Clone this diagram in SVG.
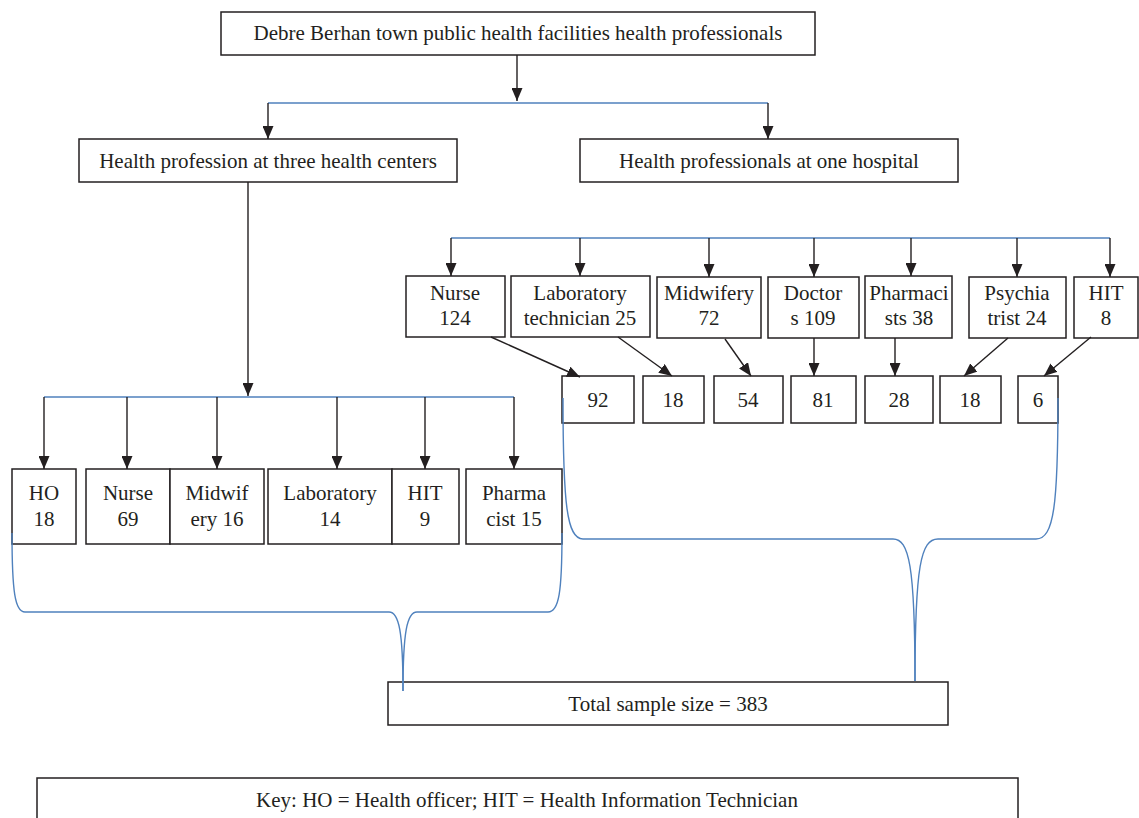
<svg xmlns="http://www.w3.org/2000/svg" width="1139" height="818" viewBox="0 0 1139 818">
<defs>
<marker id="ah" markerUnits="userSpaceOnUse" markerWidth="13" markerHeight="11" refX="13" refY="5.5" orient="auto">
<path d="M0,0 L13,5.5 L0,11 z" fill="#231f20"/>
</marker>
<style>
.n rect{fill:#fff;stroke:#231f20;stroke-width:1.5}
text{font-family:"Liberation Serif","Times New Roman",serif;font-size:21px;fill:#231f20;text-anchor:middle}
.k{stroke:#231f20;stroke-width:1.4;fill:none}
.a{marker-end:url(#ah)}
.b{stroke:#4f81bd;stroke-width:1.4;fill:none}
</style>
</defs>
<rect x="0" y="0" width="1139" height="818" fill="#fff"/>

<g class="n">
<g id="n_top"><rect x="221" y="12" width="594" height="43"/><text x="518" y="40">Debre Berhan town public health facilities health professionals</text></g>
<g id="n_hc"><rect x="79" y="139" width="378" height="43"/><text x="268" y="168">Health profession at three health centers</text></g>
<g id="n_hosp"><rect x="580" y="139" width="378" height="43"/><text x="769" y="168">Health professionals at one hospital</text></g>

<g id="n_ho"><rect x="12" y="469" width="64" height="75"/><text x="44" y="500">HO</text><text x="44" y="526">18</text></g>
<g id="n_nurse69"><rect x="86" y="469" width="84" height="75"/><text x="128" y="500">Nurse</text><text x="128" y="526">69</text></g>
<g id="n_midwif16"><rect x="170" y="469" width="94" height="75"/><text x="217" y="500">Midwif</text><text x="217" y="526">ery 16</text></g>
<g id="n_lab14"><rect x="268" y="469" width="124" height="75"/><text x="330" y="500">Laboratory</text><text x="330" y="526">14</text></g>
<g id="n_hit9"><rect x="392" y="469" width="67" height="75"/><text x="425" y="500">HIT</text><text x="425" y="526">9</text></g>
<g id="n_pharma15"><rect x="466" y="469" width="96" height="75"/><text x="514" y="500">Pharma</text><text x="514" y="526">cist 15</text></g>

<g id="n_nurse124"><rect x="406" y="276" width="99" height="61"/><text x="455" y="300">Nurse</text><text x="455" y="325">124</text></g>
<g id="n_lab25"><rect x="511" y="276" width="139" height="61"/><text x="580" y="300">Laboratory</text><text x="580" y="325">technician 25</text></g>
<g id="n_mid72"><rect x="657" y="277" width="104" height="61"/><text x="709" y="300">Midwifery</text><text x="709" y="325">72</text></g>
<g id="n_doc109"><rect x="768" y="277" width="91" height="61"/><text x="813" y="300">Doctor</text><text x="813" y="325">s 109</text></g>
<g id="n_pharm38"><rect x="865" y="276" width="87" height="62"/><text x="909" y="300">Pharmaci</text><text x="909" y="325">sts 38</text></g>
<g id="n_psy24"><rect x="969" y="277" width="97" height="61"/><text x="1017" y="300">Psychia</text><text x="1017" y="325">trist 24</text></g>
<g id="n_hit8"><rect x="1074" y="277" width="64" height="61"/><text x="1106" y="300">HIT</text><text x="1106" y="325">8</text></g>

<g id="n_92"><rect x="562" y="376" width="72" height="47"/><text x="598" y="407">92</text></g>
<g id="n_18a"><rect x="643" y="376" width="61" height="47"/><text x="673" y="407">18</text></g>
<g id="n_54"><rect x="714" y="376" width="69" height="47"/><text x="748" y="407">54</text></g>
<g id="n_81"><rect x="791" y="376" width="65" height="47"/><text x="823" y="407">81</text></g>
<g id="n_28"><rect x="865" y="376" width="68" height="47"/><text x="899" y="407">28</text></g>
<g id="n_18b"><rect x="940" y="376" width="61" height="47"/><text x="970" y="407">18</text></g>
<g id="n_6"><rect x="1018" y="376" width="40" height="47"/><text x="1038" y="407">6</text></g>

<g id="n_total"><rect x="388" y="682" width="560" height="43"/><text x="668" y="711">Total sample size = 383</text></g>
<g id="n_key"><rect x="37" y="778" width="981" height="60"/><text x="527" y="807" font-size="21.5">Key: HO = Health officer; HIT = Health Information Technician</text></g>
</g>

<g id="connectors">
<line class="k a" x1="517" y1="55" x2="517" y2="101"/>
<polyline class="b" points="268,103 768,103"/>
<line class="k a" x1="268" y1="103" x2="268" y2="139"/>
<line class="k a" x1="768" y1="103" x2="768" y2="139"/>
<line class="k a" x1="248" y1="182" x2="248" y2="396"/>
<polyline class="b" points="44,397 514,397"/>
<line class="k a" x1="44" y1="397" x2="44" y2="469"/>
<line class="k a" x1="127" y1="397" x2="127" y2="469"/>
<line class="k a" x1="217" y1="397" x2="217" y2="469"/>
<line class="k a" x1="337" y1="397" x2="337" y2="469"/>
<line class="k a" x1="425" y1="397" x2="425" y2="469"/>
<line class="k a" x1="514" y1="397" x2="514" y2="469"/>
<polyline class="b" points="451,238 1110,238"/>
<line class="k a" x1="451" y1="238" x2="451" y2="276"/>
<line class="k a" x1="580" y1="238" x2="580" y2="276"/>
<line class="k a" x1="709" y1="238" x2="709" y2="277"/>
<line class="k a" x1="814" y1="238" x2="814" y2="277"/>
<line class="k a" x1="911" y1="238" x2="911" y2="276"/>
<line class="k a" x1="1017" y1="238" x2="1017" y2="277"/>
<line class="k a" x1="1110" y1="238" x2="1110" y2="277"/>
<line class="k a" x1="491" y1="337" x2="580" y2="377"/>
<line class="k a" x1="618" y1="337" x2="672" y2="376"/>
<line class="k a" x1="725" y1="339" x2="751" y2="376"/>
<line class="k a" x1="814" y1="338" x2="814" y2="376"/>
<line class="k a" x1="895" y1="338" x2="895" y2="376"/>
<line class="k a" x1="1008" y1="338" x2="964" y2="376"/>
<line class="k a" x1="1091" y1="337" x2="1044" y2="376"/>
<path class="b" d="M12,533 C12,592 15,612 25,612 L389,612 C399,612 403,632 403,691"/>
<path class="b" d="M562,533 C562,592 559,612 548,612 L417,612 C407,612 403,632 403,691"/>
<path class="b" d="M563,398 C563,505 567,539 583,539 L893,539 C909,539 915,565 915,681"/>
<path class="b" d="M1058,398 C1058,505 1054,539 1036,539 L938,539 C921,539 915,565 915,681"/>
</g>
</svg>
